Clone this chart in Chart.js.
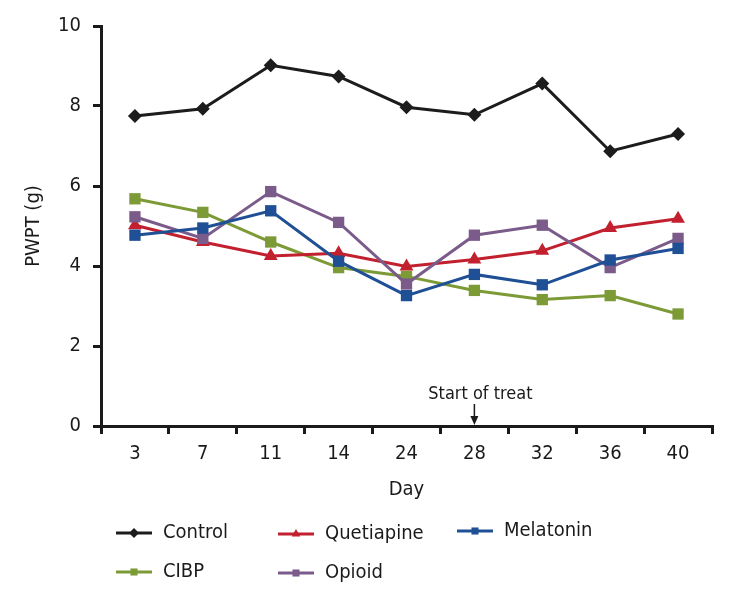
<!DOCTYPE html>
<html lang="en">
<head>
  <meta charset="UTF-8">
  <title>PWPT by day</title>
  <script src="https://cdn.jsdelivr.net/npm/chart.js"></script>
  <style>
    html, body { margin: 0; padding: 0; background: #fff; }
    #wrap { width: 738px; height: 594px; }
  </style>
</head>
<body>
  <div id="wrap"><canvas id="pwptChart" width="738" height="594"></canvas></div>
  <script>
    const days = ['3', '7', '11', '14', '24', '28', '32', '36', '40'];
    const yTicks = [0, 2, 4, 6, 8, 10];

    const control    = [7.75, 7.93, 9.02, 8.74, 7.97, 7.78, 8.56, 6.87, 7.3];
    const cibp       = [5.68, 5.34, 4.6, 3.96, 3.74, 3.39, 3.16, 3.26, 2.8];
    const quetiapine = [5.02, 4.6, 4.25, 4.32, 3.99, 4.16, 4.38, 4.95, 5.18];
    const melatonin  = [4.77, 4.95, 5.38, 4.12, 3.26, 3.79, 3.53, 4.15, 4.44];
    const opioid     = [5.23, 4.69, 5.86, 5.09, 3.55, 4.77, 5.02, 3.96, 4.69];

    const startLabel = 'Start of treat';
    const startDay = '28';

    const FONT = "'Liberation Sans Narrow', 'DejaVu Sans Condensed', 'Open Sans', sans-serif";
    const AXIS = '#1a1a1a';

    const mk = (label, data, color, style, r) => ({
      label, data,
      borderColor: color,
      backgroundColor: color,
      borderWidth: 3,
      pointStyle: style,
      pointRadius: r,
      pointHoverRadius: r,
      pointBorderWidth: 0,
      tension: 0
    });

    const datasets = [
      mk('Control', control, '#1c1c1c', 'rectRot', 7),
      mk('CIBP', cibp, '#7c9a35', 'rect', 8),
      mk('Quetiapine', quetiapine, '#c2202f', 'triangle', 8),
      mk('Opioid', opioid, '#7a5b8a', 'rect', 8),
      mk('Melatonin', melatonin, '#1f4f95', 'rect', 8)
    ];
    // draw order: later datasets painted on top
    datasets.forEach((d, i) => d.order = datasets.length - i);

    // legend placement (two rows, three columns)
    const legendSlots = {
      'Control':    [116, 533],
      'Quetiapine': [278, 534],
      'Melatonin':  [457, 531],
      'CIBP':       [116, 572],
      'Opioid':     [278, 573]
    };

    const extras = {
      id: 'extras',
      afterDraw(chart) {
        const ctx = chart.ctx;
        const x = chart.scales.x;
        const y = chart.scales.y;

        // start of treatment arrow
        const ax = x.getPixelForValue(days.indexOf(startDay));
        const base = y.getPixelForValue(0);
        ctx.save();
        ctx.strokeStyle = AXIS;
        ctx.fillStyle = AXIS;
        ctx.lineWidth = 1.5;
        ctx.beginPath();
        ctx.moveTo(ax, base - 22);
        ctx.lineTo(ax, base - 8);
        ctx.stroke();
        ctx.beginPath();
        ctx.moveTo(ax - 4, base - 10);
        ctx.lineTo(ax + 4, base - 10);
        ctx.lineTo(ax, base - 1);
        ctx.closePath();
        ctx.fill();
        ctx.font = '18px ' + FONT;
        ctx.textAlign = 'center';
        ctx.textBaseline = 'middle';
        ctx.fillText(startLabel, ax + 6, base - 32);

        // legend
        ctx.font = '20px ' + FONT;
        ctx.textAlign = 'left';
        chart.data.datasets.forEach(ds => {
          const [lx, ly] = legendSlots[ds.label];
          ctx.strokeStyle = ds.borderColor;
          ctx.fillStyle = ds.borderColor;
          ctx.lineWidth = 3;
          ctx.beginPath();
          ctx.moveTo(lx, ly);
          ctx.lineTo(lx + 36, ly);
          ctx.stroke();
          Chart.helpers.drawPoint(ctx, { pointStyle: ds.pointStyle, radius: 5, borderWidth: 0 }, lx + 18, ly);
          ctx.fillStyle = '#1a1a1a';
          ctx.fillText(ds.label, lx + 47, ly);
        });
        ctx.restore();
      }
    };

    new Chart(document.getElementById('pwptChart'), {
      type: 'line',
      data: { labels: days, datasets },
      options: {
        responsive: false,
        animation: false,
        events: [],
        layout: { padding: { left: 0, right: 26, top: 26, bottom: 88 } },
        plugins: { legend: { display: false }, tooltip: { enabled: false } },
        scales: {
          x: {
            offset: true,
            grid: { offset: true, drawOnChartArea: false, drawTicks: true, tickLength: 8, lineWidth: 3, color: AXIS },
            border: { display: true, width: 3, color: AXIS },
            ticks: { color: '#1a1a1a', padding: 8, font: { family: FONT, size: 20 } },
            title: { display: true, text: 'Day', color: '#1a1a1a', font: { family: FONT, size: 20 }, padding: { top: 4, bottom: 4 } },
            afterFit(scale) { scale.height = 80; }
          },
          y: {
            min: 0,
            max: 10,
            afterBuildTicks(scale) { scale.ticks = yTicks.map(v => ({ value: v })); },
            grid: { drawOnChartArea: false, drawTicks: true, tickLength: 8, lineWidth: 3, color: AXIS },
            border: { display: true, width: 3, color: AXIS },
            ticks: { color: '#1a1a1a', padding: 12, font: { family: FONT, size: 20 } },
            title: { display: true, text: 'PWPT (g)', color: '#1a1a1a', font: { family: FONT, size: 20 }, padding: { top: 22, bottom: 0 } },
            afterFit(scale) { scale.width = 101; }
          }
        }
      },
      plugins: [extras]
    });
  </script>
</body>
</html>
